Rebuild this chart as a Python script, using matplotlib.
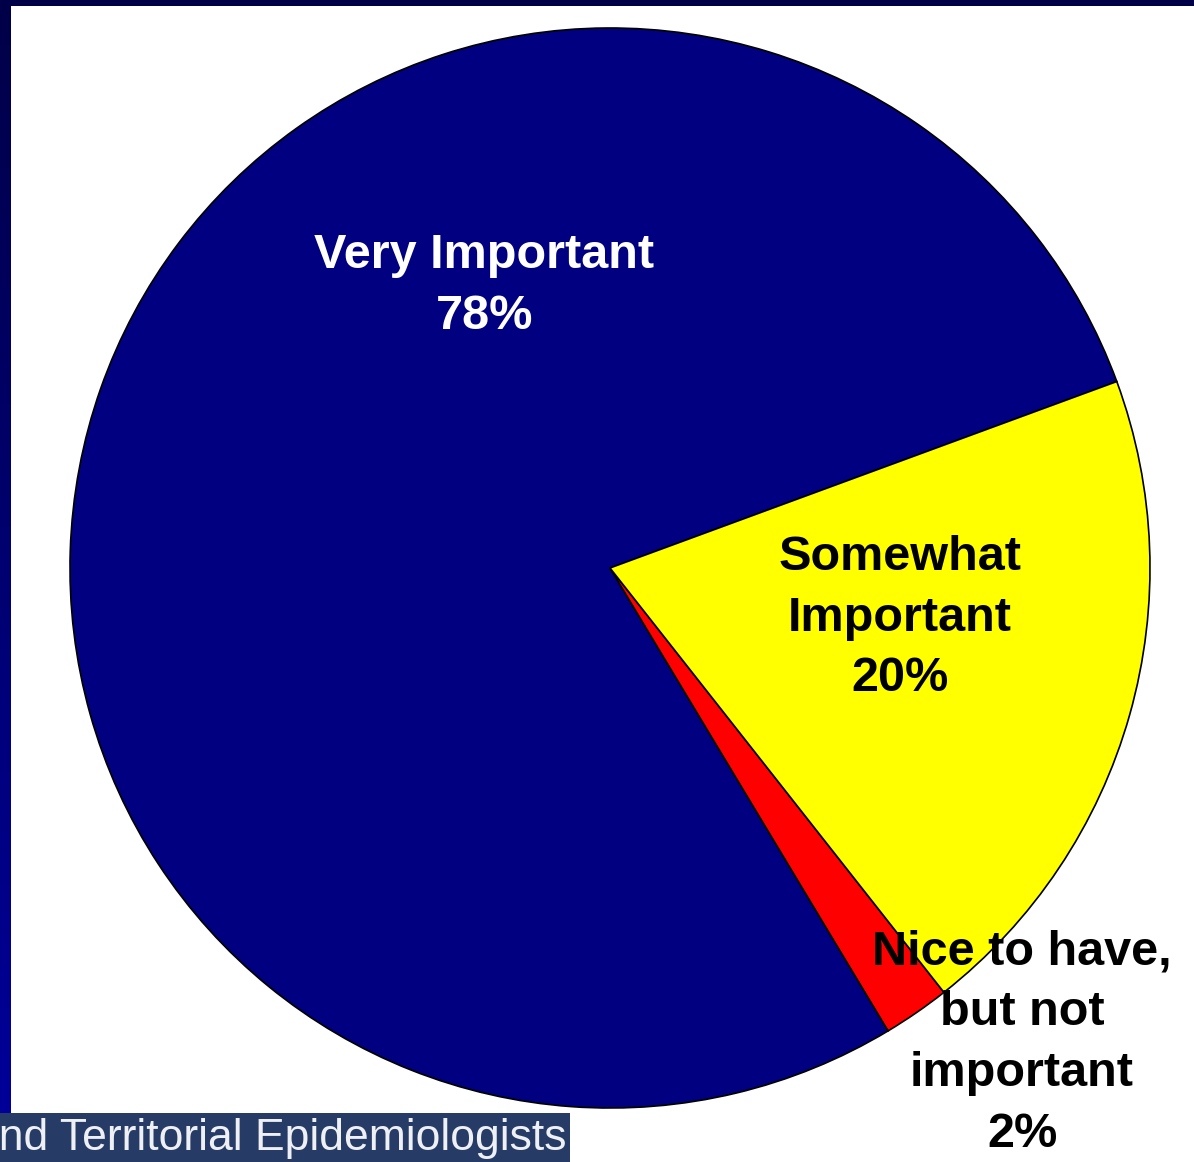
import matplotlib.pyplot as plt
import numpy as np
from matplotlib.patches import Rectangle

# data
labels = ["Very Important\n78%", "Nice to have,\nbut not\nimportant\n2%", "Somewhat\nImportant\n20%"]
values = [78, 2, 20]
colors = ["#000080", "#FF0000", "#FFFF00"]
text_colors = ["white", "black", "black"]
label_pos = [(-0.233, 0.522), (0.763, -0.880), (0.537, -0.093)]
footer = "and Territorial Epidemiologists"

W, H = 1194, 1162
fig = plt.figure(figsize=(W / 100, H / 100), dpi=100)
fig.patch.set_facecolor("#000050")

# slide background: vertical navy gradient with white content area
bg = fig.add_axes([0, 0, 1, 1])
grad = np.linspace(0, 1, 256).reshape(-1, 1)
bg.imshow(grad, aspect="auto", extent=[0, 1, 0, 1], origin="upper",
          cmap=plt.matplotlib.colors.LinearSegmentedColormap.from_list("g", ["#000048", "#00009C"]))
bg.add_patch(Rectangle((11 / W, 0), 1, 1 - 6 / H, color="white", lw=0))
bg.add_patch(Rectangle((0, 0), 570 / W, 49 / H, color="#263C66", lw=0))
bg.text(566 / W, 3 / H, footer, ha="right", va="bottom", color="#EEF0F4",
        fontsize=32, family="Liberation Sans")
bg.set_xlim(0, 1)
bg.set_ylim(0, 1)
bg.axis("off")

# pie
cx, cy, r = 610, 568, 540
ax = fig.add_axes([(cx - r) / W, (H - cy - r) / H, 2 * r / W, 2 * r / H])
ax.pie(values, colors=colors, startangle=20.2, counterclock=True, radius=1,
       wedgeprops=dict(edgecolor="black", linewidth=1.2))
ax.set_xlim(-1, 1)
ax.set_ylim(-1, 1)
ax.set_aspect("equal")
ax.axis("off")

for lab, (x, y), tc in zip(labels, label_pos, text_colors):
    ax.text(x, y, lab, ha="center", va="center", color=tc, fontsize=35,
            fontweight="bold", family="Liberation Sans", linespacing=1.45,
            clip_on=False)

fig.savefig("out.png", dpi=100)
